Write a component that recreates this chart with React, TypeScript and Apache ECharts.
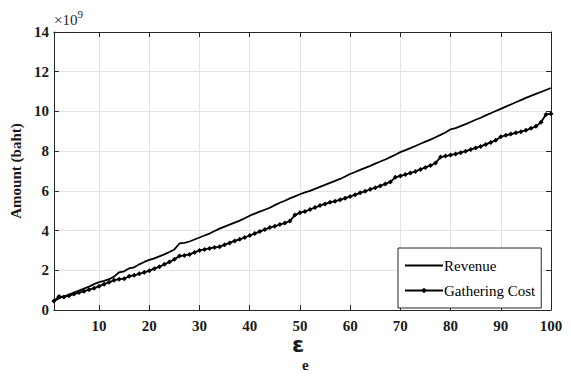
import React, { useEffect, useRef } from "react";
import * as echarts from "echarts";

const epsilon = [
  1, 2, 3, 4, 5, 6, 7, 8, 9, 10, 11, 12, 13, 14, 15, 16, 17, 18, 19, 20,
  21, 22, 23, 24, 25, 26, 27, 28, 29, 30, 31, 32, 33, 34, 35, 36, 37, 38, 39, 40,
  41, 42, 43, 44, 45, 46, 47, 48, 49, 50, 51, 52, 53, 54, 55, 56, 57, 58, 59, 60,
  61, 62, 63, 64, 65, 66, 67, 68, 69, 70, 71, 72, 73, 74, 75, 76, 77, 78, 79, 80,
  81, 82, 83, 84, 85, 86, 87, 88, 89, 90, 91, 92, 93, 94, 95, 96, 97, 98, 99, 100,
];

// values in units of 1e9 baht
const revenue = [
  0.45, 0.58, 0.68, 0.78, 0.88, 0.98, 1.08, 1.18, 1.3, 1.4,
  1.47, 1.55, 1.68, 1.9, 1.95, 2.1, 2.15, 2.3, 2.42, 2.52,
  2.6, 2.7, 2.8, 2.92, 3.05, 3.35, 3.38, 3.45, 3.55, 3.65,
  3.75, 3.85, 3.98, 4.1, 4.2, 4.3, 4.4, 4.5, 4.62, 4.75,
  4.85, 4.95, 5.05, 5.15, 5.28, 5.4, 5.5, 5.62, 5.72, 5.83,
  5.92, 6.0, 6.1, 6.2, 6.3, 6.4, 6.5, 6.6, 6.72, 6.85,
  6.95, 7.06, 7.16, 7.26, 7.37, 7.48, 7.58, 7.7, 7.82, 7.95,
  8.05, 8.15, 8.26, 8.37, 8.48, 8.58, 8.7, 8.82, 8.94, 9.1,
  9.16, 9.26, 9.36, 9.47, 9.58, 9.68, 9.8, 9.91, 10.02, 10.13,
  10.24, 10.35, 10.46, 10.57, 10.68, 10.78, 10.88, 10.98, 11.08, 11.18,
];

const gatheringCost = [
  0.45, 0.68, 0.66, 0.72, 0.8, 0.88, 0.95, 1.02, 1.1, 1.2,
  1.3, 1.4, 1.5, 1.55, 1.58, 1.7, 1.75, 1.82, 1.9, 1.98,
  2.08, 2.18, 2.3, 2.42, 2.55, 2.72, 2.75, 2.8, 2.9, 3.0,
  3.05, 3.1, 3.15, 3.18, 3.28, 3.38, 3.48, 3.56, 3.65, 3.75,
  3.85, 3.95, 4.05, 4.15, 4.22, 4.3, 4.38, 4.48, 4.78, 4.9,
  4.96, 5.06, 5.16, 5.26, 5.34, 5.42, 5.48, 5.55, 5.63, 5.72,
  5.8, 5.9, 5.98, 6.08, 6.16, 6.25, 6.35, 6.45, 6.68, 6.75,
  6.82, 6.9, 6.98, 7.08, 7.18, 7.28, 7.4, 7.7, 7.75, 7.8,
  7.86, 7.92, 8.0, 8.08, 8.16, 8.24, 8.34, 8.44, 8.55, 8.72,
  8.8, 8.86, 8.92, 8.98, 9.05, 9.15, 9.25, 9.45, 9.85, 9.88,
];

const xTicks = [10, 20, 30, 40, 50, 60, 70, 80, 90, 100];
const seriesNames = ["Revenue", "Gathering Cost"];

const SERIF = "Liberation Serif";
const AXIS_COLOR = "#262626";
const GRID_COLOR = "#e3e3e3";

export default function App() {
  const ref = useRef<HTMLDivElement>(null);

  useEffect(() => {
    if (!ref.current) return;
    const chart = echarts.init(ref.current, undefined, { renderer: "svg" });

    const xBase = {
      type: "value" as const,
      min: 1,
      max: 100,
      axisLine: { show: true, onZero: false, lineStyle: { color: AXIS_COLOR, width: 1 } },
      axisTick: { show: true, inside: true, length: 5, customValues: xTicks, lineStyle: { color: AXIS_COLOR } },
    };
    const yBase = {
      type: "value" as const,
      min: 0,
      max: 14,
      interval: 2,
      axisLine: { show: true, onZero: false, lineStyle: { color: AXIS_COLOR, width: 1 } },
      axisTick: { show: true, inside: true, length: 5, lineStyle: { color: AXIS_COLOR } },
    };

    chart.setOption({
      animation: false,
      backgroundColor: "#ffffff",
      grid: { left: 52, right: 20, top: 32, bottom: 73, containLabel: false },
      xAxis: [
        {
          ...xBase,
          position: "bottom",
          axisLabel: {
            customValues: xTicks,
            color: "#1a1a1a",
            fontFamily: SERIF,
            fontWeight: "bold",
            fontSize: 15,
            margin: 8,
          },
          splitLine: { show: true, lineStyle: { color: GRID_COLOR, width: 1 } },
        },
        {
          ...xBase,
          position: "top",
          axisLabel: { show: false },
          splitLine: { show: false },
        },
      ],
      yAxis: [
        {
          ...yBase,
          position: "left",
          axisLabel: {
            color: "#1a1a1a",
            fontFamily: SERIF,
            fontWeight: "bold",
            fontSize: 15,
            margin: 5,
          },
          splitLine: { show: true, lineStyle: { color: GRID_COLOR, width: 1 } },
          name: "Amount (baht)",
          nameLocation: "middle",
          nameGap: 30,
          nameRotate: 90,
          nameTextStyle: { fontFamily: SERIF, fontWeight: "bold", fontSize: 15, color: "#1a1a1a" },
        },
        {
          ...yBase,
          position: "right",
          axisLabel: { show: false },
          splitLine: { show: false },
        },
      ],
      legend: {
        orient: "vertical",
        left: 398,
        top: 248,
        data: [
          { name: seriesNames[0], itemStyle: { opacity: 0 } },
          { name: seriesNames[1] },
        ],
        backgroundColor: "#ffffff",
        borderColor: "#262626",
        borderWidth: 1,
        borderRadius: 0,
        padding: [10, 6, 10, 6],
        itemWidth: 38,
        itemHeight: 7,
        itemGap: 10,
        textStyle: { fontFamily: SERIF, fontSize: 15, color: "#000000", padding: [0, 0, 0, -4] },
      },
      series: [
        {
          name: seriesNames[0],
          type: "line",
          xAxisIndex: 0,
          yAxisIndex: 0,
          data: epsilon.map((x, i) => [x, revenue[i]]),
          symbol: "none",
          lineStyle: { color: "#000000", width: 1.8 },
          itemStyle: { color: "#000000" },
        },
        {
          name: seriesNames[1],
          type: "line",
          xAxisIndex: 0,
          yAxisIndex: 0,
          data: epsilon.map((x, i) => [x, gatheringCost[i]]),
          symbol: "diamond",
          symbolSize: 5,
          showSymbol: true,
          lineStyle: { color: "#000000", width: 1.8 },
          itemStyle: { color: "#000000" },
        },
      ],
      graphic: [
        {
          type: "text",
          left: 54,
          top: 8,
          style: {
            text: "{a|×10}{b|9}",
            rich: {
              a: { fontFamily: SERIF, fontSize: 15, fill: "#262626", verticalAlign: "bottom" },
              b: { fontFamily: SERIF, fontSize: 11, fill: "#262626", verticalAlign: "top", padding: [0, 0, 8, 0] },
            },
          },
        },
        {
          type: "text",
          left: 292,
          top: 333,
          style: {
            text: "ε",
            fontFamily: "DejaVu Sans",
            fontWeight: "bold",
            fontSize: 22,
            fill: "#1a1a1a",
          },
        },
        {
          type: "text",
          left: 302,
          top: 357,
          style: {
            text: "e",
            fontFamily: SERIF,
            fontWeight: "bold",
            fontSize: 15,
            fill: "#1a1a1a",
          },
        },
      ],
    });

    return () => chart.dispose();
  }, []);

  return <div ref={ref} style={{ width: 571, height: 383, position: "absolute", left: 0, top: 0 }} />;
}
